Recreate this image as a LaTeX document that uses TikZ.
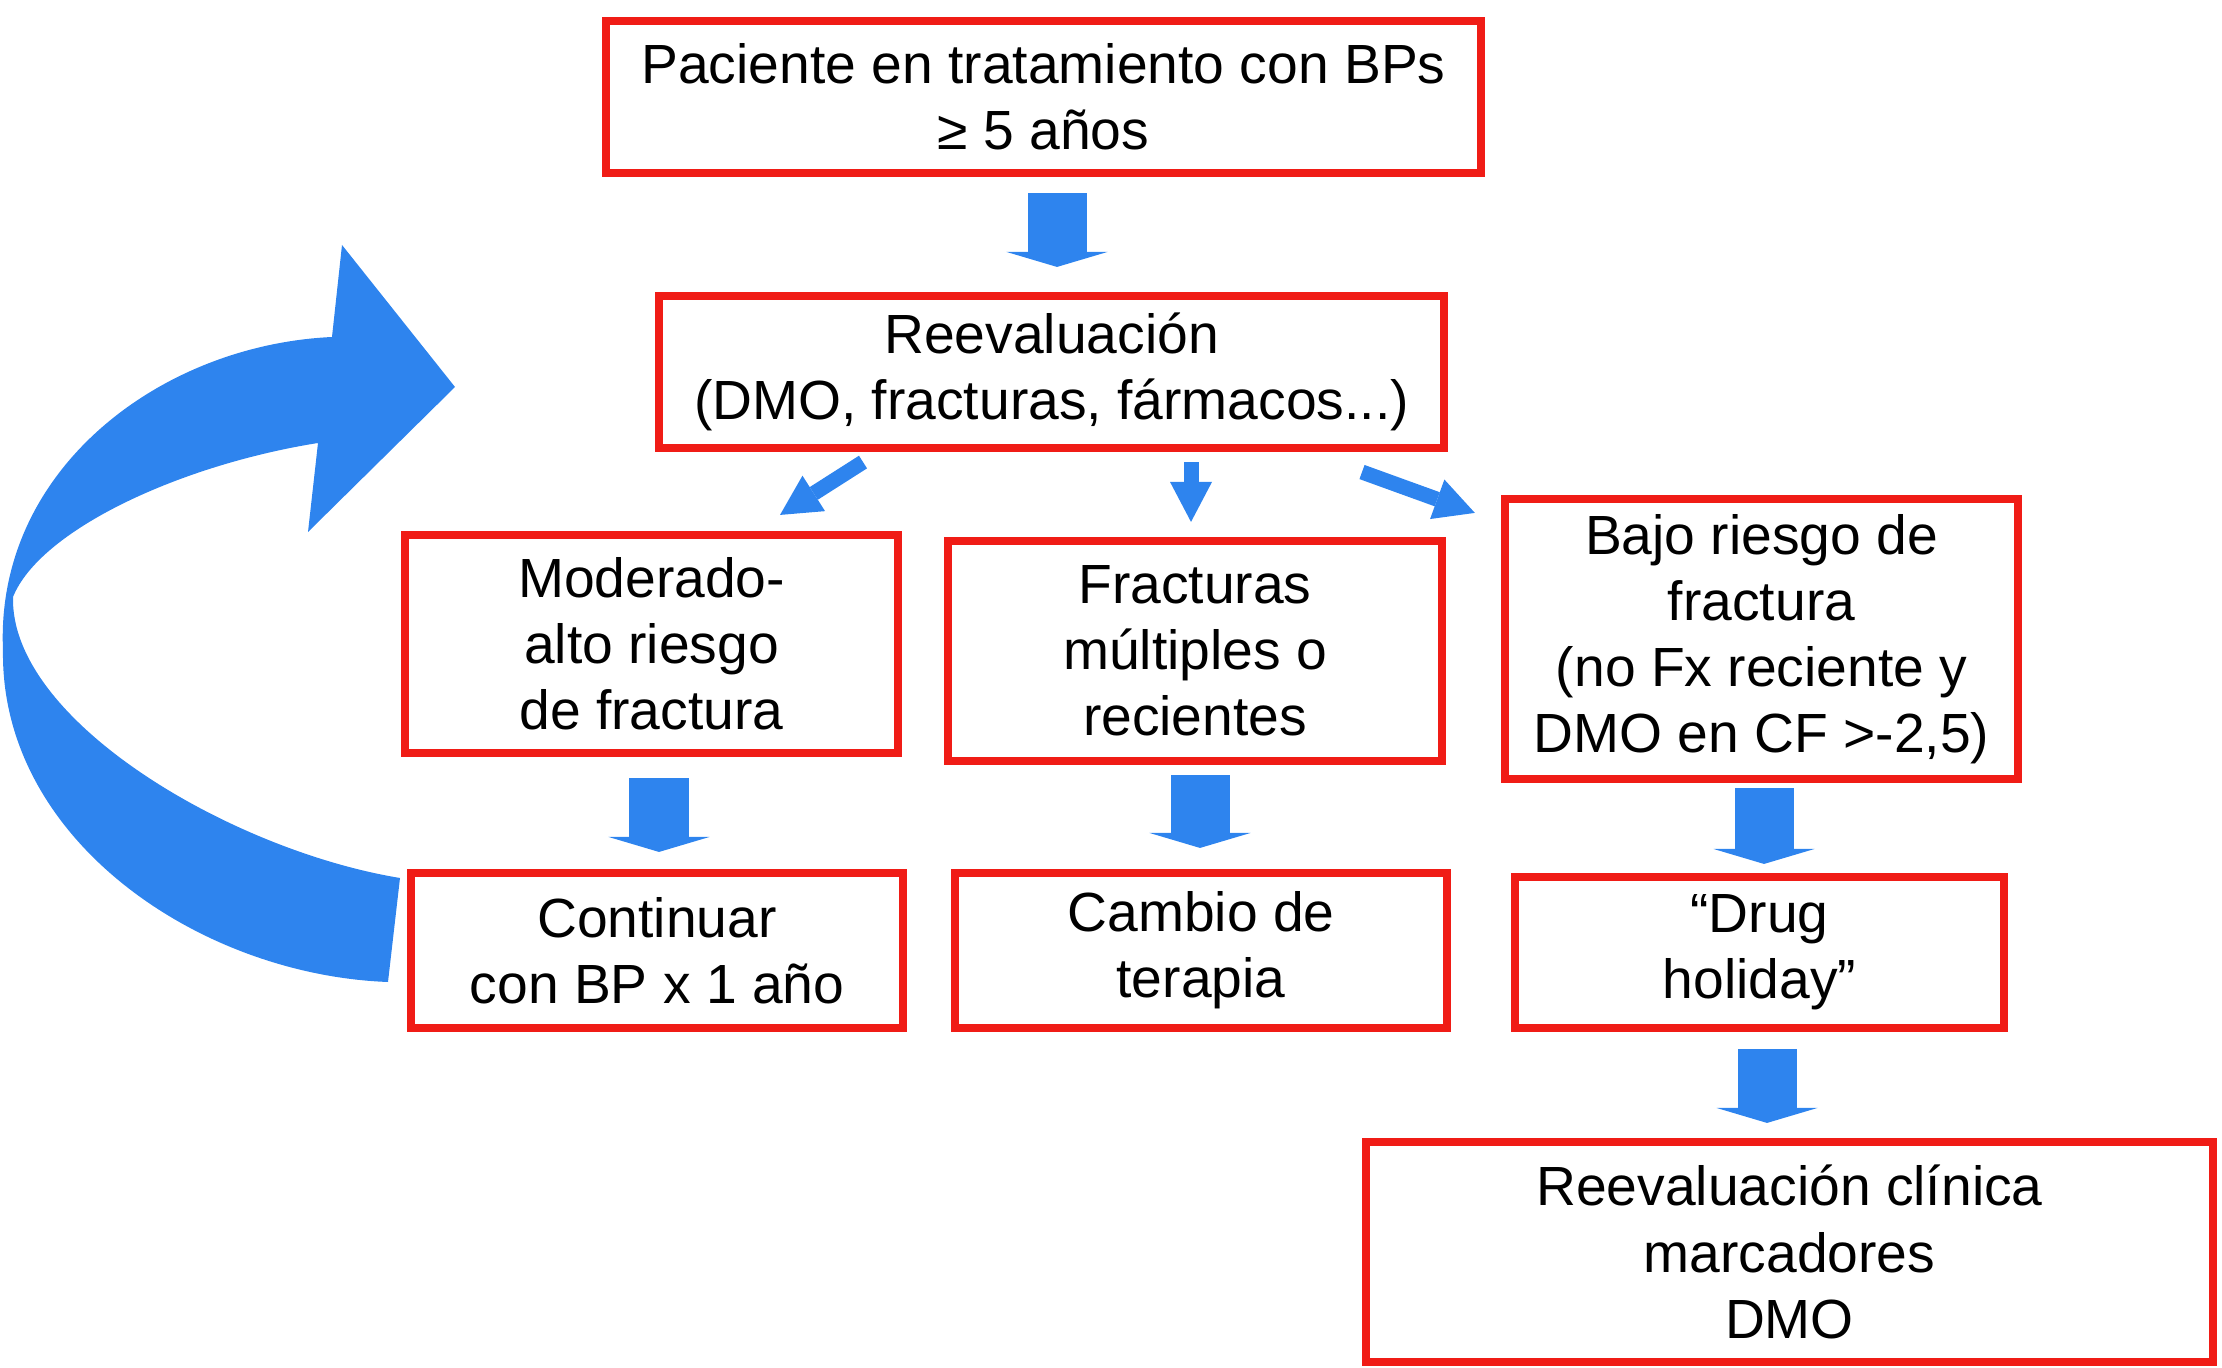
\documentclass[tikz,border=0pt]{standalone}
\usepackage{fontspec}
\setmainfont{Liberation Sans}
\usetikzlibrary{arrows.meta,calc}
\definecolor{rojo}{RGB}{240,28,22}
\definecolor{azul}{RGB}{46,132,238}

\begin{document}
\begin{tikzpicture}[x=0.01cm, y=-0.01cm,
	caja/.style={draw=rojo, line width=0.08cm, align=center, inner sep=0pt,
		font=\fontsize{15.7}{18.8}\selectfont},
	flecha/.style={azul, line width=0.59cm,
		-{Triangle[length=0.15cm, width=1.01cm, line width=0pt]}},
	flechita/.style={azul, line width=0.15cm,
		-{Triangle[length=0.40cm, width=0.42cm, line width=0pt]}}]
	
	% Limites de la figura
	\useasboundingbox (0,0) rectangle (2222,1368);
	
	% Cajas
	\node[caja, minimum width=8.75cm, minimum height=1.52cm] (pac) at (1043.5,97)
	{Paciente en tratamiento con BPs\\≥ 5 años};
	\node[caja, minimum width=7.85cm, minimum height=1.52cm] (reev) at (1051.5,372)
	{Reevaluación\\(DMO, fracturas, fármacos...)};
	
	\node[caja, minimum width=4.93cm, minimum height=2.18cm] (mod) at (651.5,644)
	{Moderado-\\alto riesgo\\de fractura};
	\node[caja, minimum width=4.94cm, minimum height=2.20cm] (fx) at (1195,651)
	{Fracturas\\múltiples o\\recientes};
	\node[caja, minimum width=5.13cm, minimum height=2.80cm] (bajo) at (1761.5,639)
	{Bajo riesgo de\\fractura\\(no Fx reciente y\\DMO en CF >-2,5)};
	
	\node[caja, minimum width=4.92cm, minimum height=1.55cm] (cont) at (657,950.5)
	{Continuar\\con BP x 1 año};
	\node[caja, minimum width=4.92cm, minimum height=1.55cm] (camb) at (1201,950.5)
	{Cambio de\\terapia};
	\node[caja, minimum width=4.89cm, minimum height=1.51cm] (drug) at (1759.5,952.5)
	{“Drug\\holiday”};
	
	\node[caja, minimum width=8.47cm, minimum height=2.20cm] (clin) at (1789.5,1252)
	{Reevaluación clínica\\marcadores\\DMO};
	
	% Flechas gruesas
	\draw[flecha] ($(pac.south)+(13.5,16)$) -- ($(reev.north)+(5.5,-25)$);
	\draw[flecha] ($(mod.south)+(7.5,21)$) -- ($(cont.north)+(2,-17)$);
	\draw[flecha] ($(fx.south)+(5,10)$) -- ($(camb.north)+(-1,-21)$);
	\draw[flecha] ($(bajo.south)+(2.5,5)$) -- ($(drug.north)+(4.5,-9)$);
	\draw[flecha] ($(drug.south)+(7.5,17)$) -- ($(clin.north)+(-22.5,-15)$);
	
	% Flechas de la reevaluacion
	\draw[flechita] ($(reev.south)+(-188.5,10)$) -- ($(mod.north)+(128.5,-16)$);
	\draw[flechita] ($(reev.south)+(139.5,10)$) -- ($(fx.north)+(-4,-15)$);
	\draw[flechita] ($(reev.south)+(310.5,20)$) -- ($(bajo.north west)+(-26,18)$);
	
	% Flecha curva de vuelta
	\fill[azul] (400,878) .. controls (230,850) and (10,720) .. (13,597)
	.. controls (40,530) and (180,465) .. (318,443)
	-- (308,532) -- (455,387) -- (342,245) -- (332,337)
	.. controls (160,345) and (-5,470) .. (3,650)
	.. controls (0,840) and (200,975) .. (388,982) -- cycle;
	
\end{tikzpicture}
\end{document}
